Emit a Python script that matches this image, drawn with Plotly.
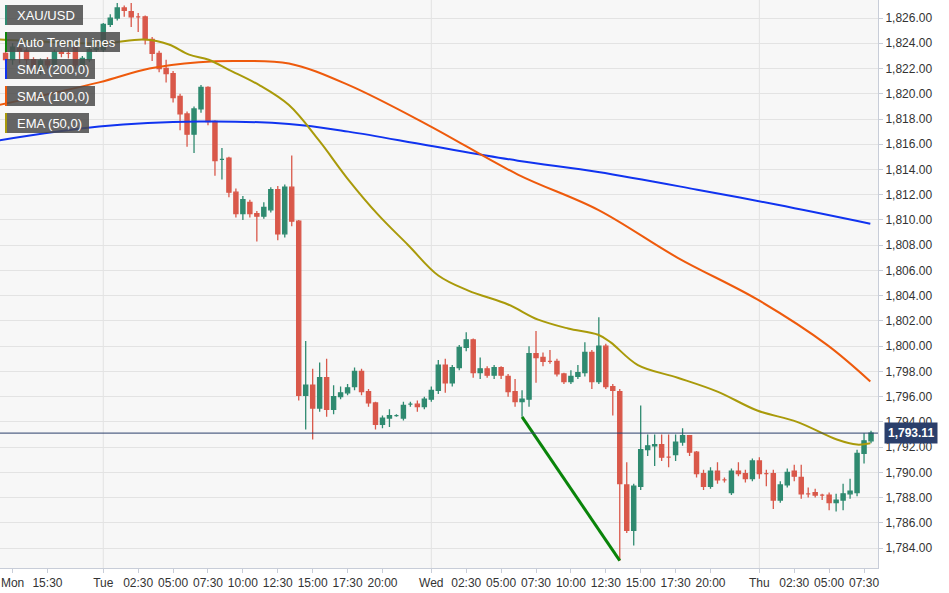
import plotly.graph_objects as go

# candle index (30-min bars)
opens = [1823.2,1822.7,1823.6,1823.4,1822.7,1822.1,1822.6,1822.3,1823.3,1823.2,1823.7,1822.3,1822.7,1823.5,1823.5,1825.5,1826.0,1826.8,1826.5,1826.1,
         1826.1,1824.3,1823.2,1822.0,1821.6,1819.8,1818.4,1816.8,1818.8,1820.5,1817.8,1814.8,1814.9,1812.2,1810.5,1811.4,1810.5,1810.3,1810.8,1812.4,
         1808.9,1812.6,1809.9,1796.1,1796.9,1795.1,1797.5,1795.0,1796.0,1796.3,1796.8,1798.0,1796.4,1795.5,1793.8,1794.3,1794.5,1794.3,1795.4,1795.4,
         1795.2,1795.8,1796.5,1798.5,1797.1,1798.3,1799.9,1800.5,1797.9,1798.2,1797.7,1798.3,1797.6,1796.4,1795.6,1795.8,1799.4,1799.1,1798.8,1798.8,
         1797.8,1797.2,1797.6,1797.9,1799.5,1797.2,1800.0,1796.8,1796.4,1789.0,1785.4,1788.9,1791.8,1792.1,1792.2,1791.2,1791.4,1792.4,1792.9,1791.6,
         1789.9,1788.9,1790.1,1789.4,1788.4,1790.1,1789.9,1789.5,1790.9,1789.9,1789.9,1787.8,1789.0,1790.1,1789.6,1788.3,1788.4,1788.2,1788.2,1787.6,
         1787.8,1788.3,1788.4,1791.5,1792.5]
closes = [1822.7,1823.7,1823.4,1822.7,1822.1,1822.6,1822.3,1823.3,1823.2,1823.2,1822.3,1822.8,1823.5,1823.6,1825.5,1826.0,1826.8,1826.6,1826.1,1826.1,
          1824.3,1823.2,1822.0,1821.6,1819.7,1818.4,1816.8,1818.8,1820.5,1817.8,1814.7,1814.8,1812.2,1810.5,1811.6,1810.5,1810.3,1811.0,1812.4,1808.9,
          1812.6,1809.9,1796.1,1796.9,1795.1,1797.5,1795.0,1796.0,1796.3,1796.7,1798.0,1796.4,1795.5,1793.8,1794.3,1794.5,1794.5,1795.3,1795.4,1795.2,
          1795.8,1796.5,1798.5,1797.1,1798.3,1799.9,1800.5,1797.9,1798.2,1797.7,1798.3,1797.7,1796.4,1795.6,1795.8,1799.4,1799.1,1798.8,1798.8,1797.8,
          1797.2,1797.6,1797.9,1799.5,1797.2,1800.0,1796.8,1796.5,1789.1,1785.4,1788.9,1791.8,1792.1,1792.2,1791.2,1791.2,1792.4,1792.9,1791.6,1789.9,
          1788.9,1790.1,1789.4,1789.4,1790.1,1789.9,1789.5,1790.9,1789.9,1789.9,1787.8,1789.0,1790.0,1789.7,1788.3,1788.3,1788.2,1788.2,1787.6,1787.8,
          1788.3,1788.5,1791.5,1792.5,1793.1]
highs = [1823.6,1824.0,1823.8,1823.6,1822.9,1822.8,1822.9,1823.5,1823.5,1823.5,1823.9,1823.0,1823.7,1823.8,1825.6,1826.3,1827.2,1827.0,1827.2,1826.4,
         1826.2,1824.5,1823.4,1822.7,1821.8,1820.0,1818.6,1819.0,1820.7,1820.6,1817.9,1815.7,1815.0,1812.5,1811.9,1811.6,1810.7,1811.4,1812.6,1812.7,
         1812.8,1815.1,1810.0,1800.4,1798.2,1798.7,1799.0,1796.9,1796.8,1797.0,1798.3,1798.2,1796.6,1795.6,1794.5,1795.0,1794.6,1795.6,1795.6,1795.7,
         1796.0,1796.8,1798.9,1799.0,1798.5,1800.1,1801.1,1800.6,1799.1,1798.4,1798.5,1798.4,1797.8,1797.4,1796.5,1800.0,1801.2,1799.5,1799.7,1799.0,
         1797.9,1798.1,1798.5,1800.3,1799.7,1802.3,1800.2,1797.0,1796.6,1790.8,1789.1,1795.3,1793.0,1793.0,1793.0,1793.0,1793.0,1793.5,1792.9,1791.7,
         1790.2,1790.4,1790.8,1789.6,1790.3,1790.8,1790.2,1791.1,1791.2,1790.2,1790.2,1789.3,1790.3,1790.6,1790.6,1788.8,1788.7,1788.3,1788.4,1788.3,
         1789.1,1789.5,1791.8,1793.1,1793.3]
lows = [1822.4,1822.3,1822.4,1822.3,1821.7,1821.5,1822.0,1822.1,1822.9,1822.8,1822.0,1822.0,1822.5,1823.3,1823.3,1825.3,1825.8,1826.1,1825.3,1824.9,
        1823.9,1822.6,1821.7,1820.9,1819.3,1817.1,1815.8,1815.3,1818.5,1817.5,1813.5,1813.2,1811.8,1810.2,1810.0,1810.2,1808.3,1810.1,1810.6,1808.4,
        1808.6,1809.5,1795.7,1793.4,1792.6,1794.8,1794.4,1794.6,1795.8,1796.1,1796.5,1796.1,1795.2,1793.4,1793.5,1793.6,1794.4,1794.1,1795.2,1794.8,
        1795.0,1795.6,1796.2,1796.3,1796.8,1798.1,1799.6,1797.5,1797.4,1797.5,1797.4,1797.4,1796.0,1795.2,1794.4,1795.2,1797.1,1798.4,1798.6,1797.6,
        1797.0,1797.0,1797.4,1797.6,1796.6,1797.0,1796.6,1794.5,1783.0,1785.2,1784.2,1788.6,1791.3,1790.5,1790.9,1790.4,1790.9,1792.1,1791.3,1789.6,
        1788.6,1788.7,1789.1,1789.2,1788.2,1789.7,1789.2,1789.3,1789.5,1788.9,1787.1,1787.6,1788.8,1789.3,1787.9,1788.0,1788.0,1787.8,1787.0,1786.9,
        1787.0,1787.9,1788.1,1790.7,1792.3]
idx = list(range(len(opens)))

sma200_x = [-1.0, 13.4, 27.7, 40.6, 49.1, 60.6, 73.4, 84.9, 99.1, 110.6, 123.9]
sma200_y = [1816.3, 1817.4, 1817.8, 1817.6, 1817.0, 1815.9, 1814.7, 1813.8, 1812.4, 1811.2, 1809.7]
sma100_x = [-1.0, 13.4, 20.6, 27.7, 33.4, 40.6, 49.1, 60.6, 73.4, 84.9, 96.3, 107.7, 117.7, 123.9]
sma100_y = [1819.1, 1820.9, 1822.0, 1822.5, 1822.6, 1822.4, 1820.7, 1817.5, 1813.6, 1810.8, 1807.0, 1803.7, 1800.1, 1797.2]
ema50_x = [-1.0, 6.3, 14.1, 19.9, 23.4, 26.3, 29.1, 32.0, 36.3, 40.6, 44.9, 49.1, 53.4, 57.7, 62.0, 66.3, 72.0,
           76.3, 80.6, 84.9, 86.7, 90.6, 96.3, 102.0, 107.7, 113.4, 119.1, 122.0, 123.9]
ema50_y = [1824.3, 1824.1, 1824.0, 1824.3, 1823.9, 1823.1, 1822.7, 1821.9, 1820.7, 1819.1, 1816.3, 1813.2, 1810.4, 1808.0,
           1805.6, 1804.4, 1803.3, 1802.1, 1801.4, 1800.9, 1800.3, 1798.5, 1797.5, 1796.4, 1794.9, 1794.0, 1792.6, 1792.2, 1792.3]
trend_x = [74, 88]
trend_y = [1794.4, 1783.0]
last_price = 1793.11

tick_pos = [1, 6, 14, 19, 24, 29, 34, 39, 44, 49, 54, 61, 66, 71, 76, 81, 86, 91, 96, 101, 108, 113, 118, 123]
tick_txt = ["Mon", "15:30", "Tue", "02:30", "05:00", "07:30", "10:00", "12:30", "15:00", "17:30", "20:00",
            "Wed", "02:30", "05:00", "07:30", "10:00", "12:30", "15:00", "17:30", "20:00",
            "Thu", "02:30", "05:00", "07:30"]
day_lines = [14, 61, 108]
y_ticks = list(range(1784, 1827, 2))

fig = go.Figure()
fig.add_trace(go.Candlestick(x=idx, open=opens, high=highs, low=lows, close=closes,
    increasing=dict(line=dict(color="#2f8a70", width=1.3), fillcolor="#2f8a70"),
    decreasing=dict(line=dict(color="#d9584a", width=1.3), fillcolor="#d9584a"),
    whiskerwidth=0, showlegend=False, hoverinfo="skip"))
fig.add_trace(go.Scatter(x=sma200_x, y=sma200_y, mode="lines", line=dict(color="#1033f0", width=2, shape="spline"), showlegend=False))
fig.add_trace(go.Scatter(x=sma100_x, y=sma100_y, mode="lines", line=dict(color="#ee5a0c", width=2, shape="spline"), showlegend=False))
fig.add_trace(go.Scatter(x=ema50_x, y=ema50_y, mode="lines", line=dict(color="#a99a0a", width=2, shape="spline"), showlegend=False))
fig.add_trace(go.Scatter(x=trend_x, y=trend_y, mode="lines", line=dict(color="#0a840a", width=3), showlegend=False))

for d in day_lines:
    fig.add_vline(x=d, line=dict(color="#e2e2e2", width=1), layer="below")
fig.add_hline(y=last_price, line=dict(color="#2b3f6b", width=1))
fig.add_annotation(x=1, xref="paper", y=last_price, yref="y", xanchor="left", text="<b>%s</b>" % f"{last_price:,.2f}",
                   showarrow=False, bgcolor="#2b3f6b", font=dict(color="white", size=12, family="Arial"), borderpad=3, xshift=6)

labels = [("XAU/USD", "#2f8a70", 78), ("Auto Trend Lines", "#0a840a", 115), ("SMA (200,0)", "#1033f0", 90),
          ("SMA (100,0)", "#ee5a0c", 90), ("EMA (50,0)", "#a99a0a", 84)]
for k, (t, c, w) in enumerate(labels):
    y0 = 5 + k * 27
    fig.add_shape(type="rect", xref="paper", yref="paper", x0=5/878, x1=(5+w)/878,
                  y0=1-(y0+20)/568, y1=1-y0/568, fillcolor="rgba(75,75,75,0.85)", line=dict(width=0))
    fig.add_shape(type="rect", xref="paper", yref="paper", x0=5/878, x1=7/878,
                  y0=1-(y0+20)/568, y1=1-y0/568, fillcolor=c, line=dict(width=0))
    fig.add_annotation(xref="paper", yref="paper", x=15/878, y=1-(y0+10)/568, text=t, showarrow=False,
                       xanchor="left", yanchor="middle", font=dict(color="white", size=13, family="Arial"))

fig.update_layout(width=949, height=593, margin=dict(l=0, r=71, t=0, b=25), boxgap=0.15,
    paper_bgcolor="white", plot_bgcolor="#f7f7f7",
    xaxis=dict(range=[-0.8, 125.0], tickvals=tick_pos, ticktext=tick_txt, showgrid=False, rangeslider=dict(visible=False),
               ticks="outside", ticklen=4, tickcolor="#c8cdd8", tickfont=dict(size=12, color="#333", family="Arial"),
               showline=True, linecolor="#c8cdd8", zeroline=False),
    yaxis=dict(side="right", range=[1782.42, 1827.43], tickvals=y_ticks, tickformat=",.2f", gridcolor="#e3e3e3",
               ticks="outside", ticklen=4, tickcolor="#c8cdd8", tickfont=dict(size=12, color="#333", family="Arial"),
               showline=True, linecolor="#c8cdd8", zeroline=False))
fig.write_html("out.html", config={"displayModeBar": False},
               post_script="document.body.style.margin='0';document.body.style.overflow='hidden';")
